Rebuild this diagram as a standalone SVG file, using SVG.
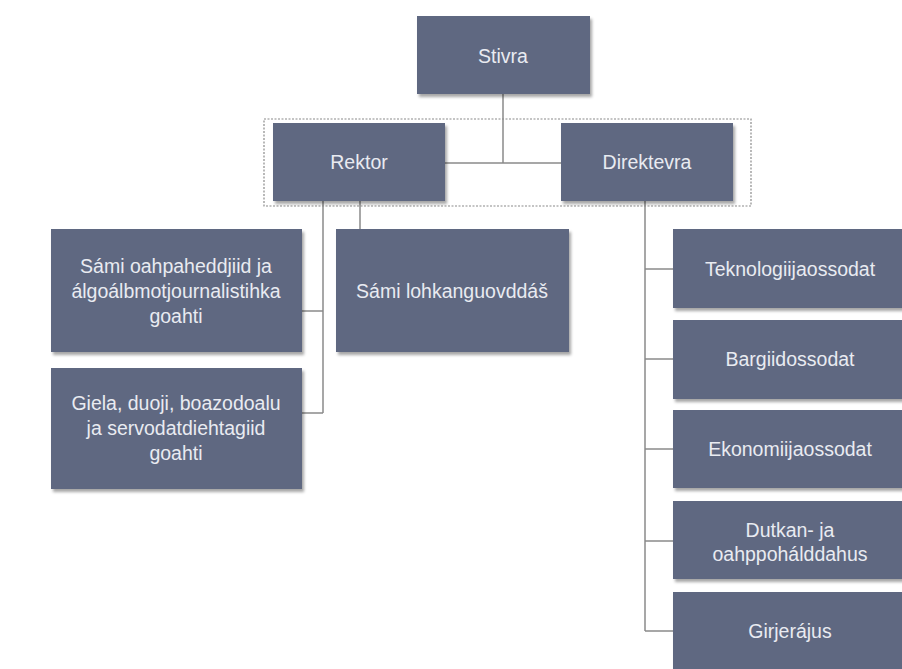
<svg xmlns="http://www.w3.org/2000/svg" width="902" height="669" viewBox="0 0 902 669">
<style>
.box{fill:#5f6781;filter:url(#sh)}
.t{font-family:"Liberation Sans",Arial,sans-serif;font-size:19.5px;fill:#e9ebf1;text-anchor:middle;dominant-baseline:central}
.c{stroke:#8a8a8a;stroke-width:1.5;fill:none}
</style>
<defs>
<filter id="sh" x="-10%" y="-10%" width="130%" height="140%">
<feDropShadow dx="2" dy="3" stdDeviation="1.5" flood-color="#000" flood-opacity="0.35"/>
</filter>
</defs>
<rect width="902" height="669" fill="#ffffff"/>
<g id="connectors">
<rect x="264" y="119" width="487" height="87" fill="none" stroke="#8a8a8a" stroke-width="1.2" stroke-dasharray="2,1.5"/>
<path class="c" d="M503 94V163M445 163H561"/>
<path class="c" d="M323 201V413M301 311H323M301 413H323"/>
<path class="c" d="M360 201V229"/>
<path class="c" d="M645 201V631M645 269H673M645 359H673M645 449H673M645 541H673M645 631H673"/>
</g>
<g id="stivra"><rect class="box" x="417" y="16" width="173" height="78"/><text class="t" x="503" y="56">Stivra</text></g>
<g id="rektor"><rect class="box" x="273" y="123" width="172" height="78"/><text class="t" x="359" y="162">Rektor</text></g>
<g id="direktevra"><rect class="box" x="561" y="123" width="172" height="78"/><text class="t" x="647" y="162">Direktevra</text></g>
<g id="sami-oahpaheddjiid"><rect class="box" x="51" y="229" width="251" height="123"/><text class="t" x="176" y="266">Sámi oahpaheddjiid ja</text><text class="t" x="176" y="291">álgoálbmotjournalistihka</text><text class="t" x="176" y="316">goahti</text></g>
<g id="giela"><rect class="box" x="51" y="368" width="251" height="121"/><text class="t" x="176" y="403">Giela, duoji, boazodoalu</text><text class="t" x="176" y="428">ja servodatdiehtagiid</text><text class="t" x="176" y="453">goahti</text></g>
<g id="sami-lohkanguovddas"><rect class="box" x="336" y="229" width="233" height="123"/><text class="t" x="452" y="291">Sámi lohkanguovddáš</text></g>
<g id="teknologiija"><rect class="box" x="673" y="229" width="235" height="79"/><text class="t" x="790" y="269">Teknologiijaossodat</text></g>
<g id="bargiid"><rect class="box" x="673" y="320" width="235" height="79"/><text class="t" x="790" y="359">Bargiidossodat</text></g>
<g id="ekonomiija"><rect class="box" x="673" y="410" width="235" height="78"/><text class="t" x="790" y="449">Ekonomiijaossodat</text></g>
<g id="dutkan"><rect class="box" x="673" y="501" width="235" height="78"/><text class="t" x="790" y="530">Dutkan- ja</text><text class="t" x="790" y="554">oahppohálddahus</text></g>
<g id="girjerajus"><rect class="box" x="673" y="592" width="235" height="82"/><text class="t" x="790" y="631">Girjerájus</text></g>
</svg>
